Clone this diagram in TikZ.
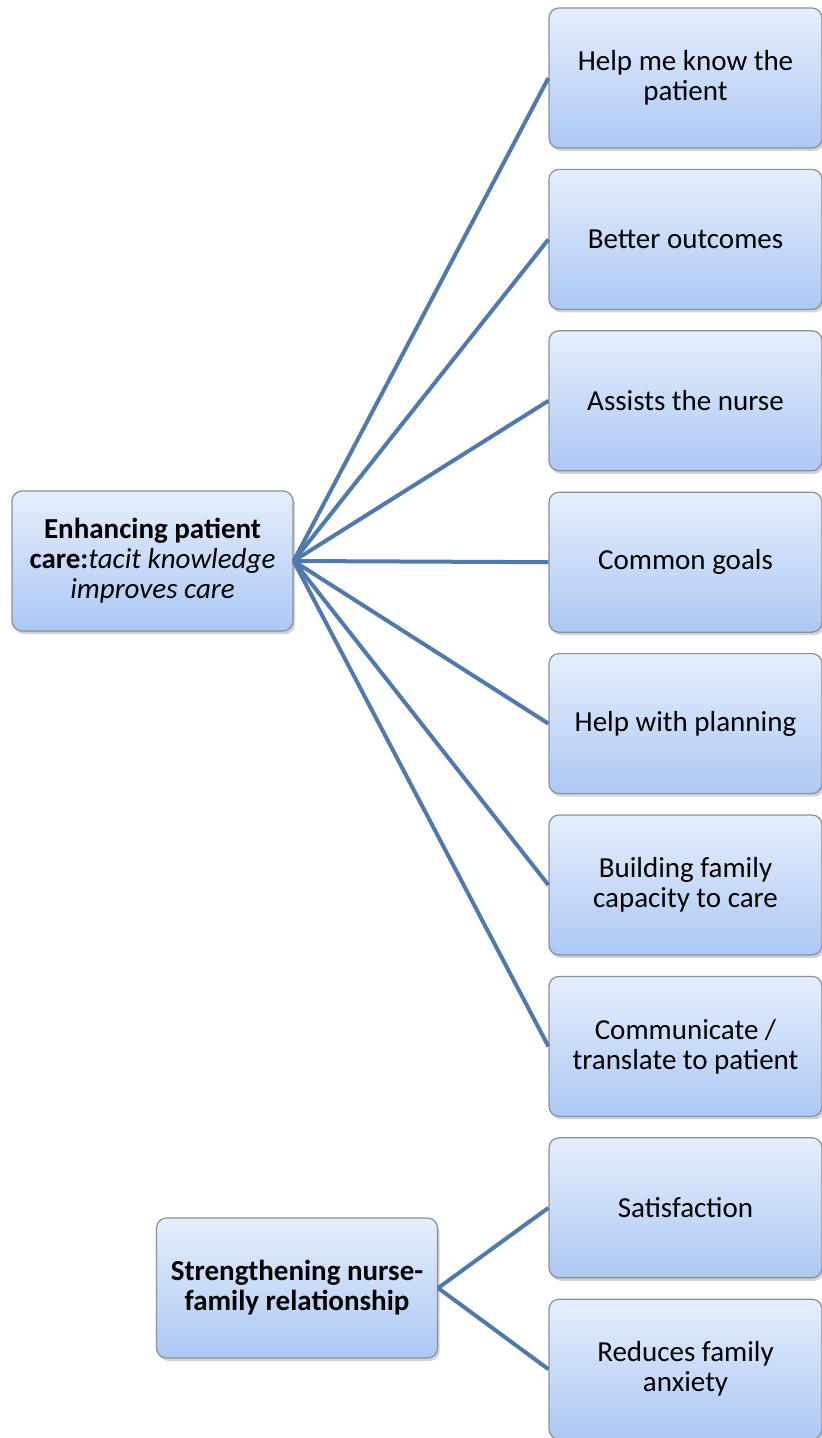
\documentclass[tikz,border=0pt]{standalone}
\usepackage{fontspec}
\setmainfont{Carlito}
\usetikzlibrary{shadows}
\definecolor{boxtop}{HTML}{E6EEFC}
\definecolor{boxbot}{HTML}{ACC8F4}
\definecolor{boxline}{HTML}{8A8F98}
\definecolor{linkcol}{HTML}{4F7AAB}
\begin{document}
\begin{tikzpicture}[x=0.5pt, y=-0.5pt,
    card/.style={draw=boxline, line width=0.6pt, rounded corners=5pt,
      top color=boxtop, bottom color=boxbot, align=center,
      minimum width=136.5pt, minimum height=70pt, inner sep=2pt,
      drop shadow={shadow xshift=1pt, shadow yshift=-1.5pt, opacity=0.35},
      font=\fontsize{14.5}{15}\selectfont},
    hub/.style={card, minimum width=140.5pt},
    link/.style={linkcol, line width=2pt}]
  \useasboundingbox (0,0) rectangle (822,1438);
  % Themes (left)
  \node[hub] (pc) at (152.5,561) {\textbf{Enhancing patient}\\\textbf{care:}\textit{tacit knowledge}\\\textit{improves care}};
  \node[hub] (nf) at (297,1288) {\textbf{Strengthening nurse-}\\\textbf{family relationship}};
  % Sub-themes (right column)
  \foreach \i/\txt in {
      1/{Help me know the\\patient},
      2/{Better outcomes},
      3/{Assists the nurse},
      4/{Common goals},
      5/{Help with planning},
      6/{Building family\\capacity to care},
      7/{Communicate /\\translate to patient},
      8/{Satisfaction},
      9/{Reduces family\\anxiety}}{
    \node[card] (s\i) at (685.5,{78+161.4*(\i-1)}) {\txt};
  }
  % Links
  \foreach \i in {1,...,7} { \draw[link] (pc.east) -- (s\i.west); }
  \foreach \i in {8,9} { \draw[link] (nf.east) -- (s\i.west); }
\end{tikzpicture}
\end{document}
